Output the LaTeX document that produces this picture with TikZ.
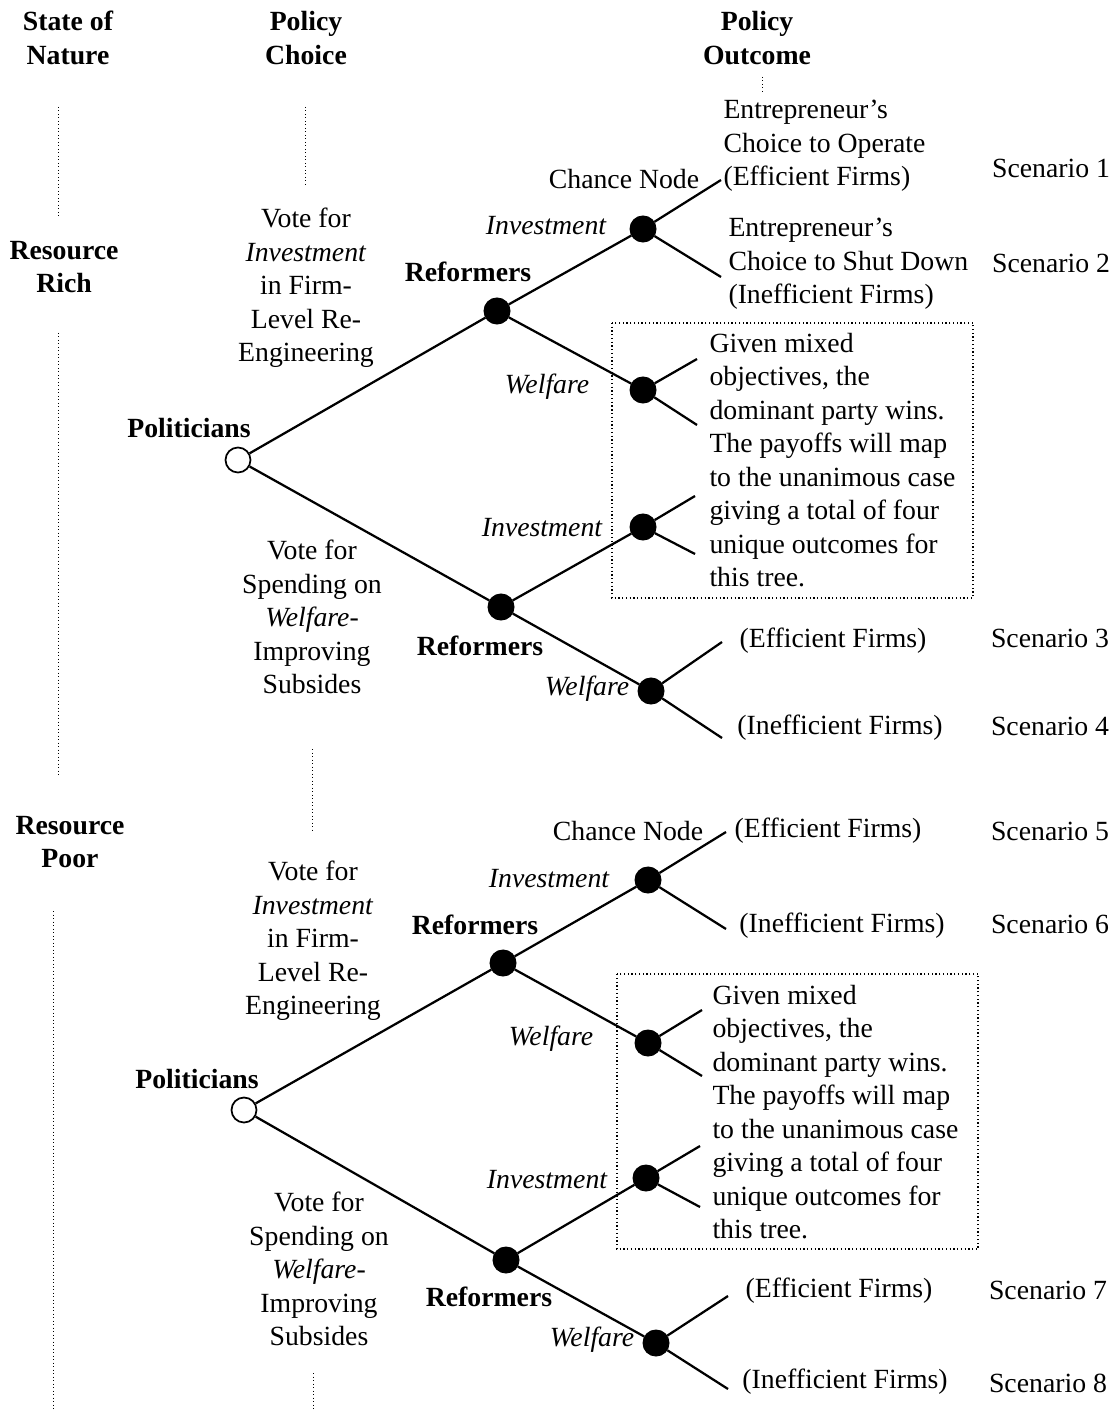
\documentclass[tikz,border=0pt]{standalone}
\usepackage{fontspec}
\setmainfont{Liberation Serif}
\usetikzlibrary{positioning}
\tikzset{
  dotnode/.style={circle,fill=black,draw=black,minimum size=10.4pt,inner sep=0pt},
  opennode/.style={circle,fill=white,draw=black,line width=0.7pt,minimum size=10pt,inner sep=0pt},
  branch/.style={line width=0.9pt},
  guide/.style={densely dotted,line width=0.4pt},
  txt/.style={font=\fontsize{11.1}{13.4}\selectfont,inner sep=0pt,align=center},
  txtl/.style={txt,align=left,anchor=west},
  hdr/.style={txt,font=\fontsize{11.1}{13.4}\selectfont\bfseries},
  lbl/.style={txt,font=\fontsize{11.1}{13.4}\selectfont\itshape},
  notebox/.style={draw,densely dotted,line width=0.5pt}
}

\begin{document}
\begin{tikzpicture}[x=0.4pt,y=-0.4pt]
  \useasboundingbox (0,0) rectangle (1116,1410);

  % column headings
  \node[hdr] (hNature) at (68,38) {State of\\Nature};
  \node[hdr] (hChoice) at (306,38) {Policy\\Choice};
  \node[hdr] (hOutcome) at (757,38) {Policy\\Outcome};
  \node[hdr] (rich) at (64,267) {Resource\\Rich};
  \node[hdr] (poor) at (70,842) {Resource\\Poor};

  % guide lines
  \draw[guide] (58,107) -- (58,217);
  \draw[guide] (58,333) -- (58,777);
  \draw[guide] (53,911) -- (53,1410);
  \draw[guide] (305,107) -- (305,185);
  \draw[guide] (312,749) -- (312,832);
  \draw[guide] (313,1373) -- (313,1410);
  \draw[guide] (762,77) -- (762,94);

  % ---- resource rich tree ----
  \draw[notebox] (612,323) rectangle (973,598);
  \node[opennode] (pol1) at (238,460) {};
  \node[dotnode] (refA1) at (497,311) {};
  \node[dotnode] (refB1) at (501,607) {};
  \node[dotnode] (chInv1) at (643,229) {};
  \node[dotnode] (chWel1) at (643,390) {};
  \node[dotnode] (chInvB1) at (643,527) {};
  \node[dotnode] (chWelB1) at (651,691) {};
  \coordinate (e1a) at (721,180);
  \coordinate (e1b) at (721,277);
  \coordinate (e1c) at (697,359);
  \coordinate (e1d) at (697,425);
  \coordinate (e1e) at (695,496);
  \coordinate (e1f) at (695,554);
  \coordinate (e1g) at (722,642);
  \coordinate (e1h) at (722,738);

  \draw[branch] (pol1) -- (refA1);
  \draw[branch] (pol1) -- (refB1);
  \draw[branch] (refA1) -- (chInv1);
  \draw[branch] (refA1) -- (chWel1);
  \draw[branch] (refB1) -- (chInvB1);
  \draw[branch] (refB1) -- (chWelB1);
  \draw[branch] (chInv1) -- (e1a);
  \draw[branch] (chInv1) -- (e1b);
  \draw[branch] (chWel1) -- (e1c);
  \draw[branch] (chWel1) -- (e1d);
  \draw[branch] (chInvB1) -- (e1e);
  \draw[branch] (chInvB1) -- (e1f);
  \draw[branch] (chWelB1) -- (e1g);
  \draw[branch] (chWelB1) -- (e1h);

  \node[hdr] (polLbl1) at (189,428) {Politicians};
  \node[hdr] (refLblA1) at (468,272) {Reformers};
  \node[hdr] (refLblB1) at (480,646) {Reformers};
  \node[lbl] (invLbl1) at (546,226) {Investment};
  \node[lbl] (welLbl1) at (547,387) {Welfare};
  \node[lbl] (invLblB1) at (542,528) {Investment};
  \node[lbl] (welLblB1) at (587,689) {Welfare};
  \node[txt] (chance1) at (624,179) {Chance Node};
  \node[txt] (voteA1) at (306,288) {Vote for\\\textit{Investment}\\in Firm-\\Level Re-\\Engineering};
  \node[txt] (voteB1) at (312,617) {Vote for\\Spending on\\\textit{Welfare}-\\Improving\\Subsides};
  \node[txtl] (out1) at (723,146) {Entrepreneur’s\\Choice to Operate\\(Efficient Firms)};
  \node[txtl] (out2) at (728,264) {Entrepreneur’s\\Choice to Shut Down\\(Inefficient Firms)};
  \node[txt] (out3) at (833,641) {(Efficient Firms)};
  \node[txt] (out4) at (840,728) {(Inefficient Firms)};
  \node[txtl] (note1) at (709,460) {Given mixed\\objectives, the\\dominant party wins.\\The payoffs will map\\to the unanimous case\\giving a total of four\\unique outcomes for\\this tree.};
  \node[txt] (sc1) at (1051,168) {Scenario 1};
  \node[txt] (sc2) at (1051,263) {Scenario 2};
  \node[txt] (sc3) at (1050,638) {Scenario 3};
  \node[txt] (sc4) at (1050,726) {Scenario 4};

  % ---- resource poor tree ----
  \draw[notebox] (617,974) rectangle (978,1249);
  \node[opennode] (pol2) at (244,1110) {};
  \node[dotnode] (refA2) at (503,963) {};
  \node[dotnode] (refB2) at (506,1260) {};
  \node[dotnode] (chInv2) at (648,880) {};
  \node[dotnode] (chWel2) at (648,1043) {};
  \node[dotnode] (chInvB2) at (646,1178) {};
  \node[dotnode] (chWelB2) at (656,1343) {};
  \coordinate (e2a) at (726,832);
  \coordinate (e2b) at (726,929);
  \coordinate (e2c) at (702,1010);
  \coordinate (e2d) at (702,1076);
  \coordinate (e2e) at (700,1146);
  \coordinate (e2f) at (700,1207);
  \coordinate (e2g) at (728,1296);
  \coordinate (e2h) at (728,1389);

  \draw[branch] (pol2) -- (refA2);
  \draw[branch] (pol2) -- (refB2);
  \draw[branch] (refA2) -- (chInv2);
  \draw[branch] (refA2) -- (chWel2);
  \draw[branch] (refB2) -- (chInvB2);
  \draw[branch] (refB2) -- (chWelB2);
  \draw[branch] (chInv2) -- (e2a);
  \draw[branch] (chInv2) -- (e2b);
  \draw[branch] (chWel2) -- (e2c);
  \draw[branch] (chWel2) -- (e2d);
  \draw[branch] (chInvB2) -- (e2e);
  \draw[branch] (chInvB2) -- (e2f);
  \draw[branch] (chWelB2) -- (e2g);
  \draw[branch] (chWelB2) -- (e2h);

  \node[hdr] (polLbl2) at (197,1079) {Politicians};
  \node[hdr] (refLblA2) at (475,925) {Reformers};
  \node[hdr] (refLblB2) at (489,1297) {Reformers};
  \node[lbl] (invLbl2) at (549,879) {Investment};
  \node[lbl] (welLbl2) at (551,1039) {Welfare};
  \node[lbl] (invLblB2) at (547,1180) {Investment};
  \node[lbl] (welLblB2) at (592,1340) {Welfare};
  \node[txt] (chance2) at (628,831) {Chance Node};
  \node[txt] (voteA2) at (313,941) {Vote for\\\textit{Investment}\\in Firm-\\Level Re-\\Engineering};
  \node[txt] (voteB2) at (319,1269) {Vote for\\Spending on\\\textit{Welfare}-\\Improving\\Subsides};
  \node[txt] (out5) at (828,831) {(Efficient Firms)};
  \node[txt] (out6) at (842,926) {(Inefficient Firms)};
  \node[txt] (out7) at (839,1291) {(Efficient Firms)};
  \node[txt] (out8) at (845,1382) {(Inefficient Firms)};
  \node[txtl] (note2) at (712,1112) {Given mixed\\objectives, the\\dominant party wins.\\The payoffs will map\\to the unanimous case\\giving a total of four\\unique outcomes for\\this tree.};
  \node[txt] (sc5) at (1050,831) {Scenario 5};
  \node[txt] (sc6) at (1050,924) {Scenario 6};
  \node[txt] (sc7) at (1048,1290) {Scenario 7};
  \node[txt] (sc8) at (1048,1383) {Scenario 8};
\end{tikzpicture}
\end{document}
